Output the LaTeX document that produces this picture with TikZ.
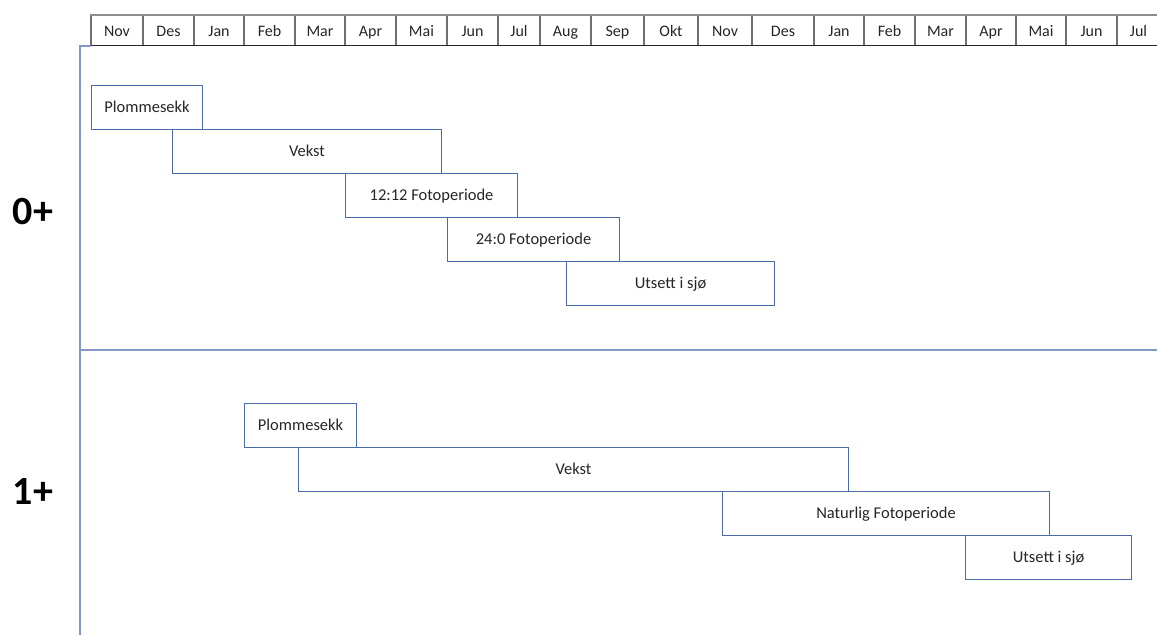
\documentclass[tikz,border=0pt]{standalone}
\usepackage{fontspec}
\setmainfont{Carlito}
\definecolor{boxblue}{HTML}{4A6BA8}
\definecolor{axisblue}{HTML}{8498C6}
\definecolor{gridgray}{HTML}{707070}
\definecolor{ink}{HTML}{262626}
\begin{document}
\begin{tikzpicture}[x=1pt,y=-1pt,
  phase/.style={draw=boxblue,line width=1.1pt,fill=white,anchor=north west,
    minimum height=44pt,inner sep=0pt,text height=12.5pt,text depth=2pt,
    font=\fontsize{16.5}{19}\selectfont,text=ink},
  month/.style={font=\fontsize{16}{19}\selectfont,text=ink,inner sep=0pt,anchor=base},
  cohort/.style={font=\fontsize{40}{46}\selectfont\bfseries,text=black,anchor=base}]
\useasboundingbox (0,0) rectangle (1157,635);

% month header
\foreach \l/\r/\m [count=\i] in {91/143/Nov,143/194/Des,194/244/Jan,244/295/Feb,
    295/345/Mar,345/396/Apr,396/447/Mai,447/498/Jun,498/540/Jul,540/591/Aug,
    591/644/Sep,644/698/Okt,698/752/Nov,752/814/Des,814/864/Jan,864/915/Feb,
    915/966/Mar,966/1016/Apr,1016/1066/Mai,1066/1117/Jun,1117/1160/Jul}{
  \node[month] (m\i) at ({(\l+\r)/2},36) {\m};
  \draw[gridgray,line width=1.3pt] (\l,15) -- (\l,45);
}
\draw[gridgray!80,line width=2pt] (90,15) -- (1157,15);
\draw[black!85,line width=1pt] (91,45) -- (1157,45);

% timeline frame
\draw[axisblue,line width=1.3pt] (91,46) -- (80,46) -- (80,635);
\draw[axisblue,line width=1.6pt] (80,350) -- (1157,350);

% cohort labels
\node[cohort] (c0) at (33,224) {0+};
\node[cohort] (c1) at (33,504) {1+};

% 0+ phases
\node[phase,minimum width=111pt] (a1) at (91,85)  {Plommesekk};
\node[phase,minimum width=269pt] (a2) at (172,129) {Vekst};
\node[phase,minimum width=172pt] (a3) at (345,173) {12:12 Fotoperiode};
\node[phase,minimum width=172pt] (a4) at (447,217) {24:0 Fotoperiode};
\node[phase,minimum width=208pt] (a5) at (566,261) {Utsett i sjø};

% 1+ phases
\node[phase,minimum width=112pt] (b1) at (244,403) {Plommesekk};
\node[phase,minimum width=550pt] (b2) at (298,447) {Vekst};
\node[phase,minimum width=327pt] (b3) at (722,491) {Naturlig Fotoperiode};
\node[phase,minimum width=166pt] (b4) at (965,535) {Utsett i sjø};
\end{tikzpicture}
\end{document}
